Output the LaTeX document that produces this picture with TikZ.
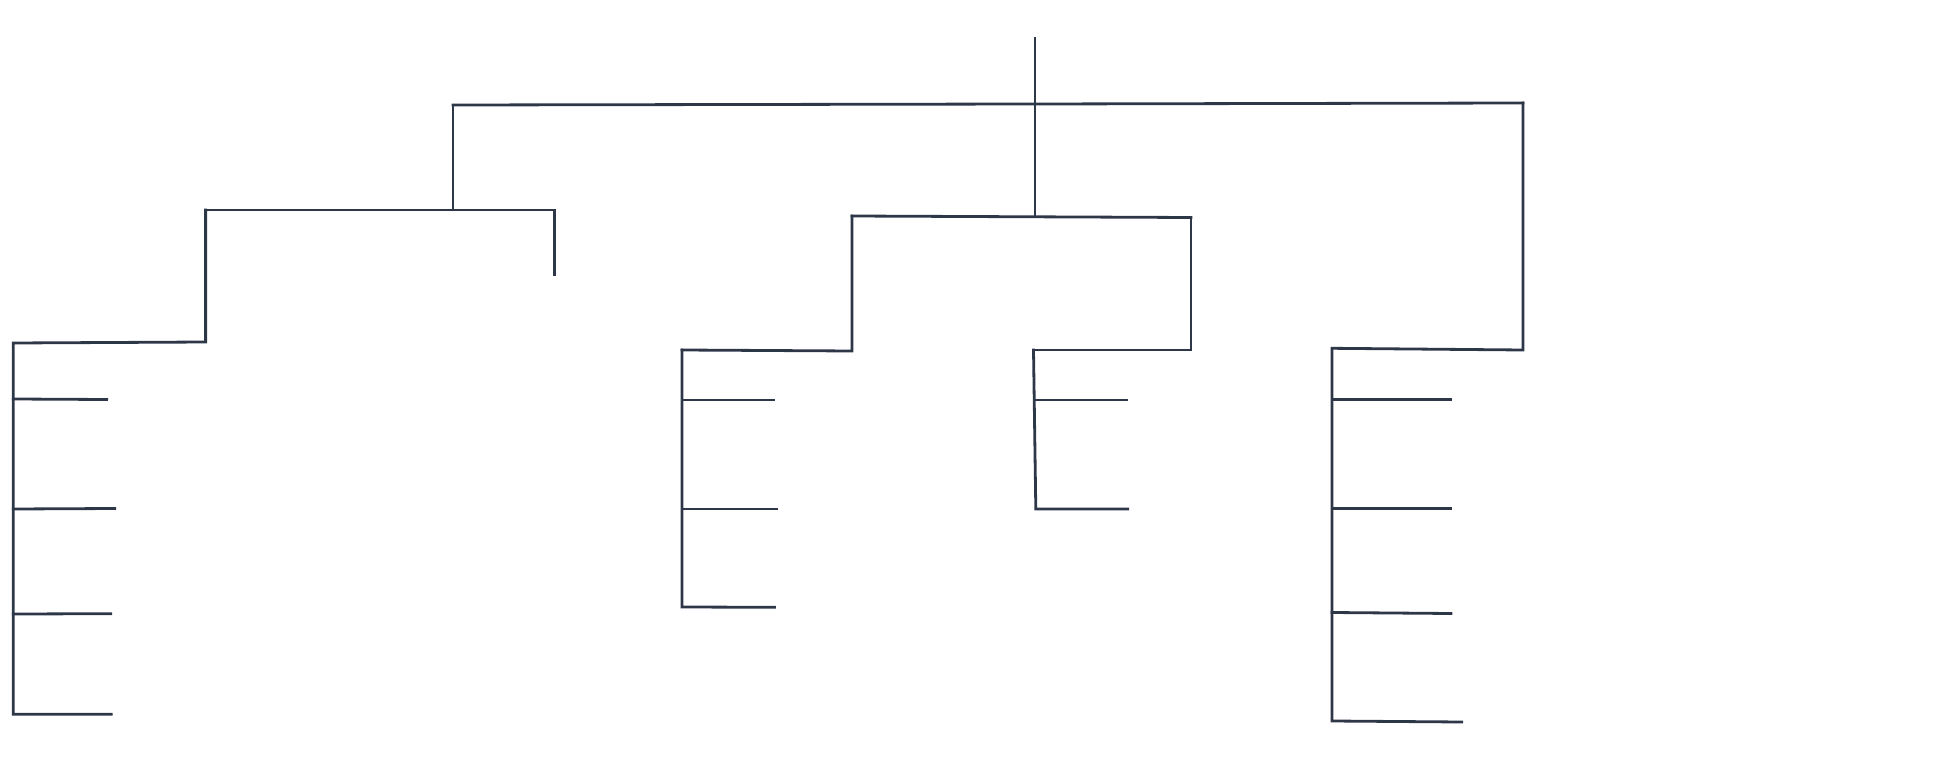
\documentclass[tikz,border=0pt]{standalone}
\definecolor{ink}{RGB}{45,55,72}
\begin{document}
\begin{tikzpicture}[x=1pt,y=-1pt,
  link/.style={draw=ink,line width=2.8pt,line cap=rect,line join=miter}]
\useasboundingbox (0,0) rectangle (1946,759);
% root and top bar
\coordinate (r0) at (1035,38);
\coordinate (rm) at (1035,104);
\coordinate (tl) at (453,105);
\coordinate (tr) at (1523,103);
% left branch
\coordinate (l1) at (453,210);
\coordinate (l2a) at (205.6,210);
\coordinate (l2b) at (554.6,210);
\coordinate (l2s) at (554.6,275);
\coordinate (l3a) at (205.6,342);
\coordinate (l3b) at (13.3,343);
\coordinate (l3e) at (13.3,714.3);
\coordinate (la1) at (13.3,399);   \coordinate (la1e) at (106.6,399.5);
\coordinate (la2) at (13.3,509);   \coordinate (la2e) at (114.8,508.5);
\coordinate (la3) at (13.3,614);   \coordinate (la3e) at (110.7,613.7);
\coordinate (la4e) at (111.2,714.3);
% middle branch
\coordinate (m1) at (1035,216.5);
\coordinate (m2a) at (852,216);
\coordinate (m2b) at (1191,217.5);
\coordinate (m3a) at (852,351);
\coordinate (m3b) at (1191,350);
\coordinate (ma0) at (682,350);
\coordinate (mae) at (682,607);
\coordinate (ma1) at (682,400);   \coordinate (ma1e) at (773.5,400);
\coordinate (ma2) at (682,509);   \coordinate (ma2e) at (776.5,509);
\coordinate (ma3e) at (774.5,607.3);
\coordinate (mb0) at (1033.5,350);
\coordinate (mbe) at (1035.8,509);
\coordinate (mb1) at (1034.2,400); \coordinate (mb1e) at (1126.5,400);
\coordinate (mb2e) at (1127.6,509);
% right branch
\coordinate (rb) at (1523,350);
\coordinate (rc0) at (1332,348.3);
\coordinate (rce) at (1332,721);
\coordinate (rc1) at (1332,399.3); \coordinate (rc1e) at (1450.8,399.3);
\coordinate (rc2) at (1332,508.7); \coordinate (rc2e) at (1450.8,508.7);
\coordinate (rc3) at (1332,612.5); \coordinate (rc3e) at (1451,613.5);
\coordinate (rc4e) at (1461.7,722);

% drawing
\draw[link] (r0) -- (m1);
\draw[link] (tl) -- (rm) -- (tr);
\draw[link] (tl) -- (l1);
\draw[link] (l2a) -- (l2b) -- (l2s);
\draw[link] (l2a) -- (l3a) -- (l3b) -- (l3e) -- (la4e);
\draw[link] (la1) -- (la1e);
\draw[link] (la2) -- (la2e);
\draw[link] (la3) -- (la3e);
\draw[link] (m2a) -- (m2b);
\draw[link] (ma0) -- (m3a) -- (m2a);
\draw[link] (mb0) -- (m3b) -- (m2b);
\draw[link] (ma0) -- (mae) -- (ma3e);
\draw[link] (ma1) -- (ma1e);
\draw[link] (ma2) -- (ma2e);
\draw[link] (mb0) -- (mbe) -- (mb2e);
\draw[link] (mb1) -- (mb1e);
\draw[link] (tr) -- (rb) -- (rc0) -- (rce) -- (rc4e);
\draw[link] (rc1) -- (rc1e);
\draw[link] (rc2) -- (rc2e);
\draw[link] (rc3) -- (rc3e);
\end{tikzpicture}
\end{document}
